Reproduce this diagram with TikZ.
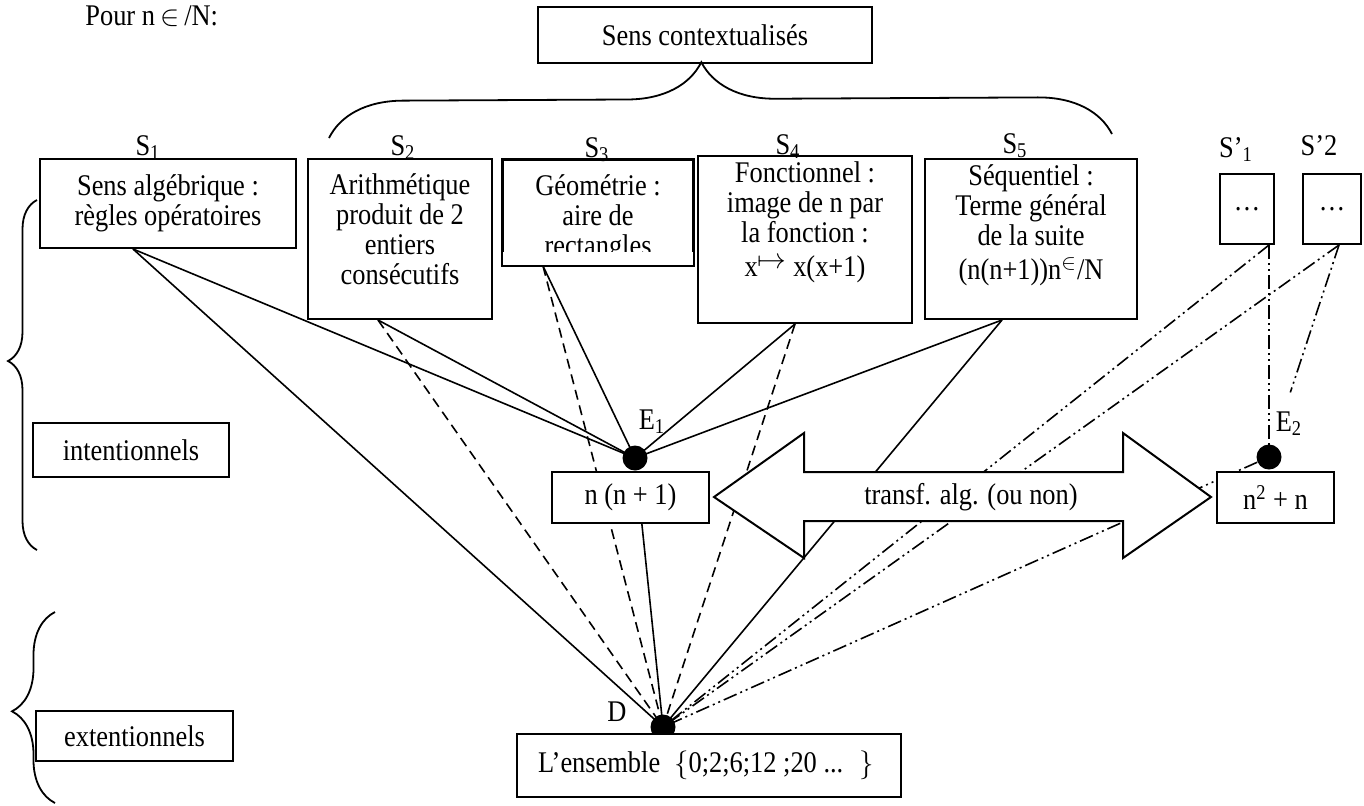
\documentclass[tikz,border=0pt]{standalone}
\usepackage{fontspec}
\setmainfont{Liberation Serif}[FakeStretch=0.88]
\usetikzlibrary{backgrounds,decorations.pathreplacing}

\tikzset{
  sbox/.style={draw, line width=1pt, fill=white, align=center, inner sep=0pt, anchor=north west},
  lab/.style={inner sep=0pt, anchor=base},
  dot/.style={circle, fill=black, inner sep=0pt, minimum size=12.5pt},
  plainline/.style={line width=0.8pt},
  dashline/.style={line width=0.8pt, dash pattern=on 5pt off 3pt},
  dashdotline/.style={line width=0.8pt, dash pattern=on 7pt off 2pt on 1pt off 2pt on 1pt off 2pt},
  brc/.style={decorate, line width=0.9pt},
}

\begin{document}
\fontsize{15pt}{15pt}\selectfont
\lineskiplimit=-100pt
\begin{tikzpicture}[x=0.5pt, y=-0.5pt]
\useasboundingbox (0,0) rectangle (1364,805);

% title
\node[lab, anchor=base west] (pour) at (85,25) {Pour n\,$\in$\,/N:};

% contextual senses
\node[sbox, minimum width=167pt, minimum height=28pt] (ctx) at (537,6) {Sens contextualisés};
\draw[brc, decoration={brace, amplitude=37pt, aspect=0.476}] (329,138) -- (1112,134);

% dots
\node[dot] (e1) at (635,458) {};
\node[dot] (e2) at (1269,457) {};
\node[dot] (d) at (663,727) {};

% sens boxes
\node[sbox, minimum width=128pt, minimum height=44.5pt] (s1) at (39,158) {Sens algébrique :\\règles opératoires};
\node[sbox, minimum width=92pt, minimum height=80pt] (s2) at (307,158) {Arithmétique\\produit de 2\\entiers\\consécutifs\rule[-9.5pt]{0pt}{0pt}};
\begin{scope}
  \clip (490,150) rectangle (700,251);
  \node[sbox, minimum width=95pt, minimum height=52.5pt] (s3) at (502,159) {\rule{0pt}{16.4pt}Géométrie :\\aire de\\rectangles};
\end{scope}
\draw[line width=1pt] (s3.north west) rectangle (s3.south east);
\node[sbox, minimum width=107pt, minimum height=83.5pt] (s4) at (697,155) {Fonctionnel :\\image de n par\\la fonction :\\[2pt]x\raisebox{4pt}{$\mapsto$} x(x+1)\rule[-20pt]{0pt}{0pt}};
\node[sbox, minimum width=106pt, minimum height=80pt] (s5) at (924,158) {Séquentiel :\\Terme général\\de la suite\\[2pt](n(n+1))n$^{\in}$/N\rule[-16.5pt]{0pt}{0pt}};
\node[sbox, minimum width=27pt, minimum height=35pt] (sp1) at (1219,173) {…};
\node[sbox, minimum width=29pt, minimum height=35pt] (sp2) at (1302,173) {…};

% labels of the senses
\node[lab] (ls1) at ([xshift=-10pt, yshift=1.5pt]s1.north) {S\textsubscript{1}};
\node[lab] (ls2) at ([xshift=1.5pt, yshift=1.5pt]s2.north) {S\textsubscript{2}};
\node[lab] (ls3) at ([xshift=-0.5pt, yshift=1pt]s3.north) {S\textsubscript{3}};
\node[lab] (ls4) at ([xshift=-8.5pt, yshift=0.5pt]s4.north) {S\textsubscript{4}};
\node[lab] (ls5) at ([xshift=-8pt, yshift=2.5pt]s5.north) {S\textsubscript{5}};
\node[lab] (lsp1) at ([xshift=-5.5pt, yshift=8pt]sp1.north) {S’\textsubscript{1}};
\node[lab] (lsp2) at ([xshift=-6.5pt, yshift=9pt]sp2.north) {S’2};

% left side
\node[sbox, minimum width=98pt, minimum height=27pt] (int) at (32,422) {intentionnels};
\node[sbox, minimum width=98.5pt, minimum height=25pt] (ext) at (35,710) {extentionnels};
\draw[brc, decoration={brace, amplitude=14.5pt, aspect=0.54}] (37,550) -- (37,200);
\draw[brc, decoration={brace, amplitude=21.5pt, aspect=0.48}] (55,803) -- (55,612);

% expressions
\node[sbox, minimum width=78.5pt, minimum height=25.5pt] (nn) at (551,471) {n (n + 1)};
\node[sbox, minimum width=58.5pt, minimum height=25.5pt] (n2) at (1216,471) {n\textsuperscript{2} + n};
\node[sbox, minimum width=192pt, minimum height=31.5pt] (ens) at (516,733) {\makebox[171pt][l]{L’ensemble\hspace{7pt}$\big\{$0;2;6;12 ;20 ...\hspace{8pt}$\big\}$}};

% double arrow
\draw[line width=1pt, fill=white] (714,497) -- (804,433) -- (804,472) -- (1123,472) -- (1123,433)
  -- (1211,497) -- (1123,558) -- (1123,521) -- (804,521) -- (804,558) -- cycle;
\node (tr) at (971,497) {transf. alg. (ou non)};

\node[lab] (le1) at (652,429) {E\textsubscript{1}};
\node[lab] (le2) at (1289,431) {E\textsubscript{2}};
\node[lab] (ld) at (617,721) {D};

% connectors
\begin{scope}[on background layer]
  \coordinate (s1o) at ([xshift=-17.5pt]s1.south);
  \coordinate (s2o) at ([xshift=-11pt]s2.south);
  \coordinate (s3o) at ([xshift=-27.5pt]s3.south);
  \coordinate (s4o) at ([xshift=-5pt]s4.south);
  \coordinate (s5o) at ([xshift=-14.5pt]s5.south);
  \coordinate (sp1o) at ([xshift=11pt]sp1.south);
  \coordinate (sp2o) at ([xshift=3.5pt]sp2.south);
  \foreach \s in {s1o,s2o,s3o,s4o,s5o}
    \draw[plainline] (\s) -- (e1.center);
  \foreach \s in {s1o,s5o,e1}
    \draw[plainline] (\s) -- (d.center);
  \foreach \s in {s2o,s3o,s4o}
    \draw[dashline] (\s) -- (d.center);
  \foreach \s in {sp1o,sp2o,e2}
    \draw[dashdotline] (\s) -- (d.center);
  \draw[dashdotline] (sp1o) -- (e2.center);
  \draw[dashdotline, shorten >=34pt] (sp2o) -- (e2.center);
\end{scope}
\end{tikzpicture}
\end{document}
